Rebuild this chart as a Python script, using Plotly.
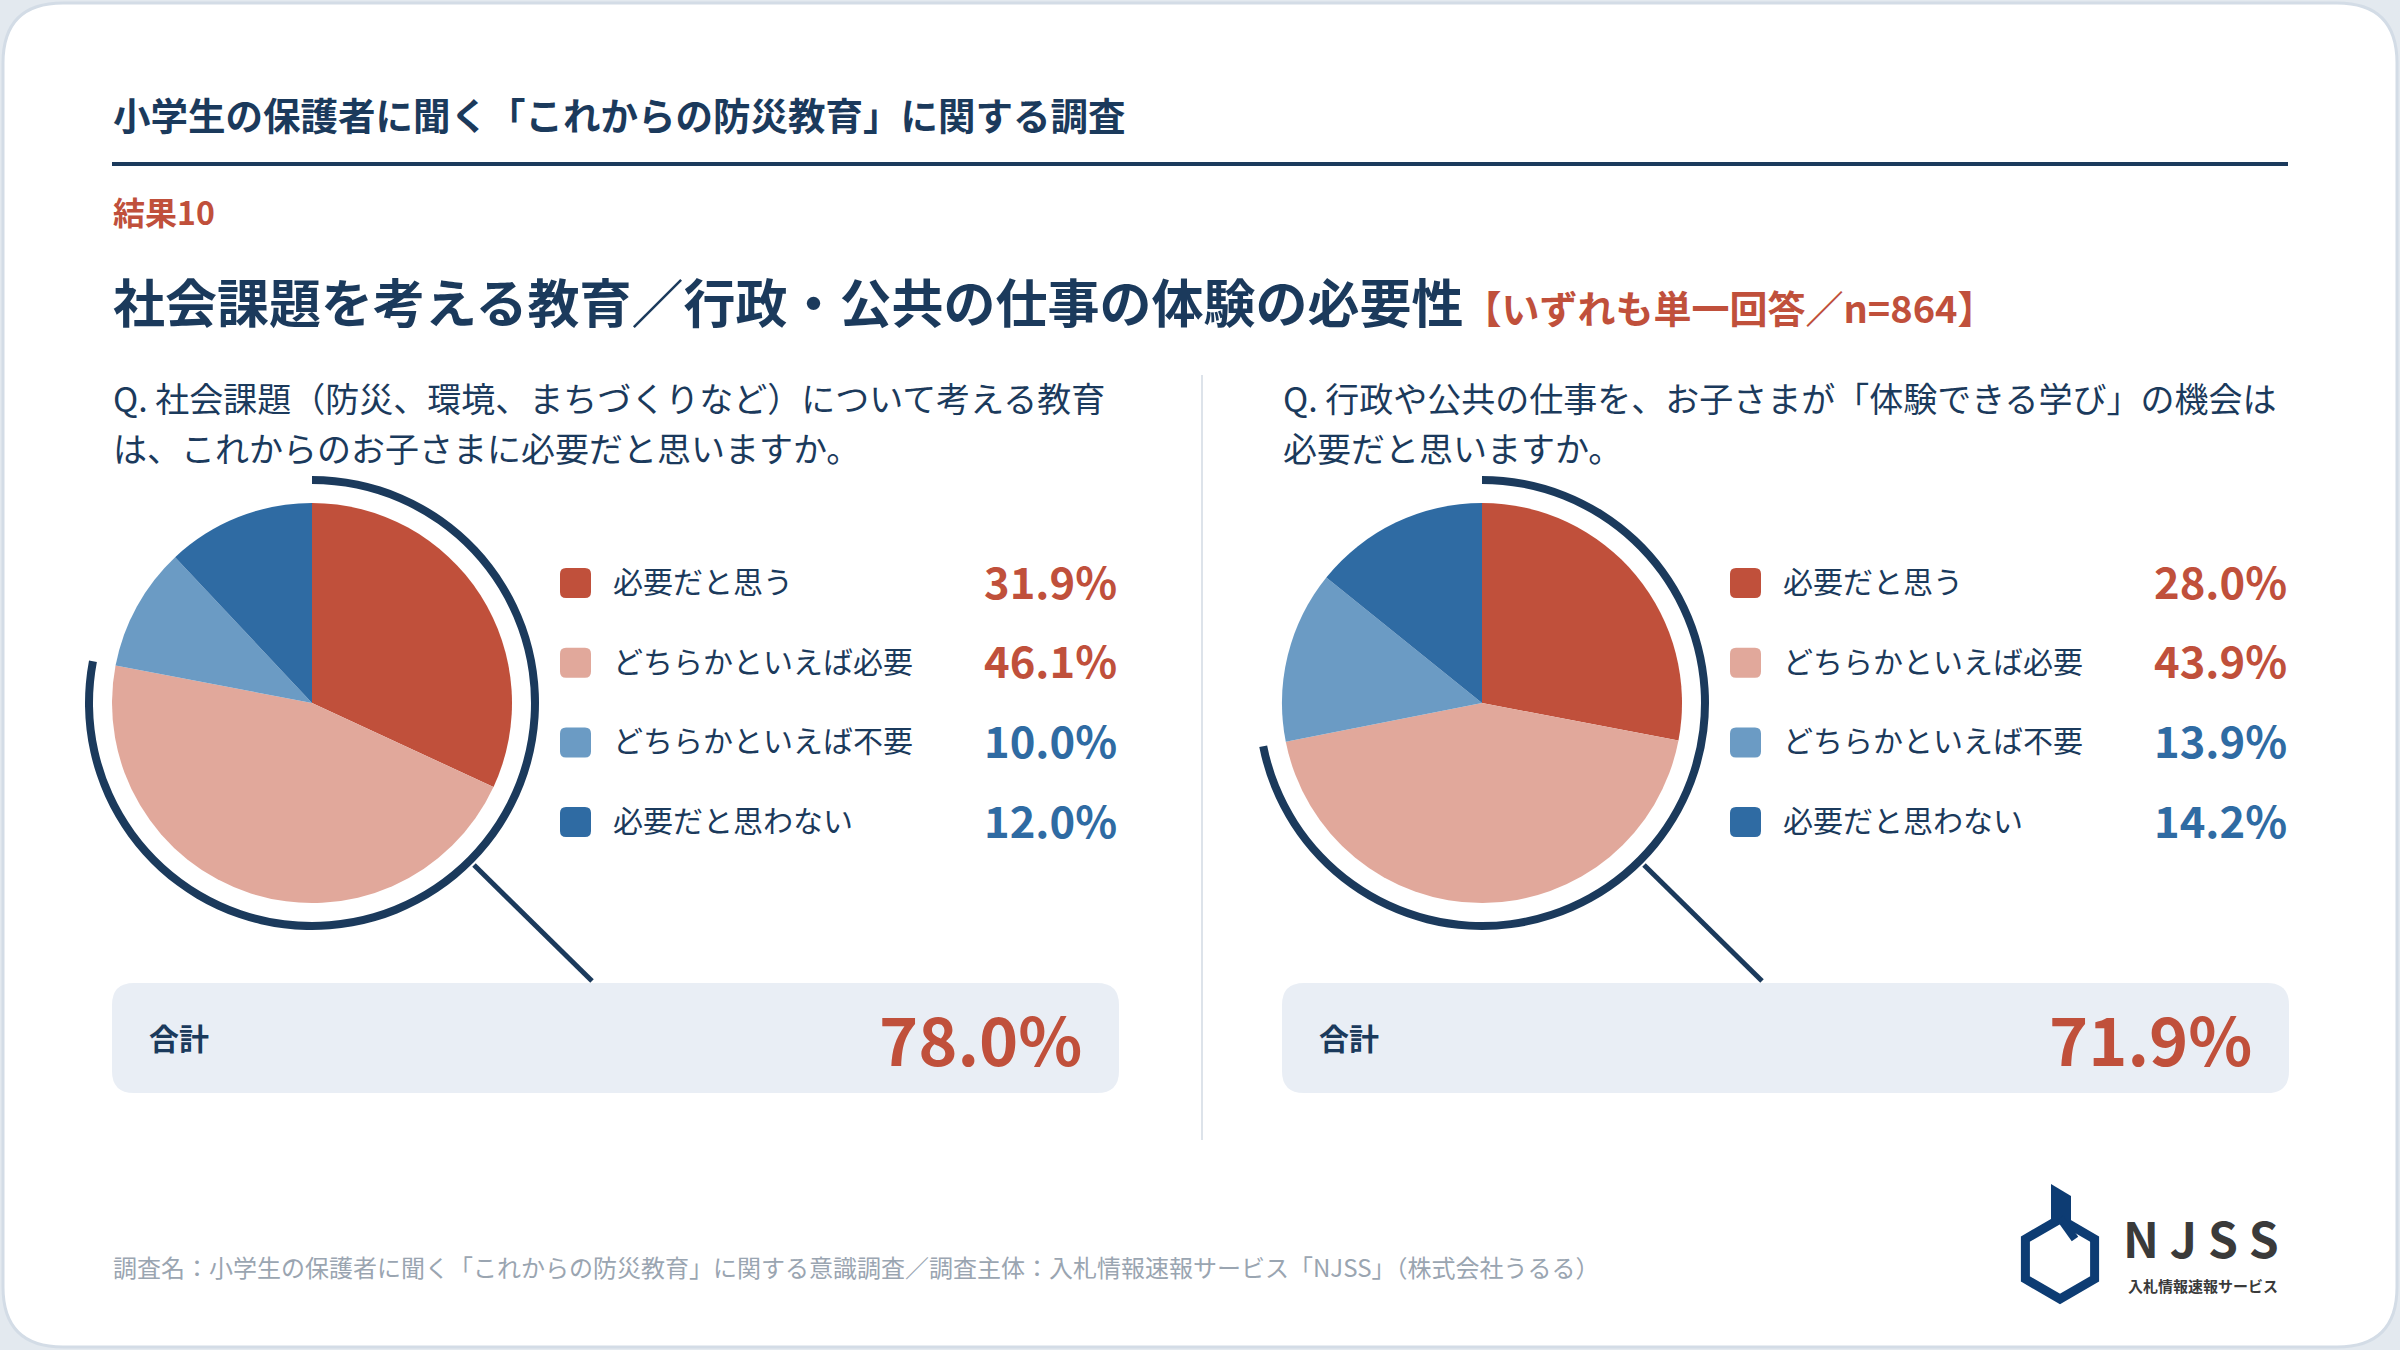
import math
import plotly.graph_objects as go

# data
categories = ["必要だと思う", "どちらかといえば必要", "どちらかといえば不要", "必要だと思わない"]
edu_values = [31.9, 46.1, 10.0, 12.0]
work_values = [28.0, 43.9, 13.9, 14.2]
edu_question = ["Q. 社会課題（防災、環境、まちづくりなど）について考える教育",
                "は、これからのお子さまに必要だと思いますか。"]
work_question = ["Q. 行政や公共の仕事を、お子さまが「体験できる学び」の機会は",
                 "必要だと思いますか。"]
header = "小学生の保護者に聞く「これからの防災教育」に関する調査"
result_no = "結果10"
title = "社会課題を考える教育／行政・公共の仕事の体験の必要性"
title_note = "【いずれも単一回答／n=864】"
total_label = "合計"
footer = "調査名：小学生の保護者に聞く「これからの防災教育」に関する意識調査／調査主体：入札情報速報サービス「NJSS」（株式会社うるる）"

W, H = 2400, 1350
NAVY = "#1b3a5c"
RED = "#c0503b"
colors = ["#c0503b", "#e1a89b", "#6b9bc4", "#2f6ba3"]
value_colors = [RED, RED, "#2f6ba3", "#2f6ba3"]
FONT = "Noto Sans CJK JP"


def rrect(x0, y0, x1, y1, r):
    return (f"M{x0+r},{y0} L{x1-r},{y0} Q{x1},{y0} {x1},{y0+r} L{x1},{y1-r} Q{x1},{y1} {x1-r},{y1} "
            f"L{x0+r},{y1} Q{x0},{y1} {x0},{y1-r} L{x0},{y0+r} Q{x0},{y0} {x0+r},{y0} Z")


def dom(cx, cy, r):
    return dict(x=[(cx - r) / W, (cx + r) / W], y=[1 - (cy + r) / H, 1 - (cy - r) / H])


fig = go.Figure()
shapes = []
ann = []


def text(x, y, s, size, color=NAVY, xanchor="left", bold=False):
    ann.append(dict(x=x, y=y - 3, xref="x", yref="y", text=f"<b>{s}</b>" if bold else s,
                    showarrow=False, xanchor=xanchor, yanchor="middle", borderpad=0,
                    font=dict(family=FONT, size=size, color=color)))


# card
shapes.append(dict(type="path", path=rrect(3, 3, W - 3, H - 3, 60), fillcolor="white",
                   line=dict(color="#d3dce6", width=3), layer="below"))

text(112, 116, header, 37.5, bold=True)
shapes.append(dict(type="line", x0=112, x1=2288, y0=164, y1=164, line=dict(color=NAVY, width=4)))
text(112, 214, result_no, 32, RED, bold=True)
text(112, 303, f"{title}<span style='font-size:38px;color:{RED}'>{title_note}</span>", 52, bold=True)
shapes.append(dict(type="line", x0=1202, x1=1202, y0=375, y1=1140, line=dict(color="#dde3ea", width=2)))

panels = [(0, edu_values, edu_question), (1170, work_values, work_question)]
for dx, vals, q in panels:
    cx, cy = 312 + dx, 703
    for i, line in enumerate(q):
        text(112 + dx, 400 + 50 * i, line, 34)
    fig.add_trace(go.Pie(values=vals, labels=categories, sort=False, direction="clockwise",
                         marker=dict(colors=colors, line=dict(width=0)), textinfo="none",
                         hoverinfo="skip", showlegend=False, domain=dom(cx, cy, 200)))
    total = round(vals[0] + vals[1], 1)
    fig.add_trace(go.Pie(values=[total, 100 - total], sort=False, direction="clockwise", hole=219 / 227,
                         marker=dict(colors=[NAVY, "rgba(0,0,0,0)"], line=dict(width=0)),
                         textinfo="none", hoverinfo="skip", showlegend=False, domain=dom(cx, cy, 227)))
    shapes.append(dict(type="line", x0=cx + 162, y0=cy + 162, x1=cx + 280, y1=981,
                       line=dict(color=NAVY, width=5)))
    for i, (c, v) in enumerate(zip(categories, vals)):
        y = 583 + 79.7 * i
        shapes.append(dict(type="path", path=rrect(560 + dx, y - 15, 591 + dx, y + 15, 6),
                           fillcolor=colors[i], line=dict(width=0)))
        text(612 + dx, y, c, 30)
        text(1118 + dx, y, f"{v:.1f}%", 43.5, value_colors[i], xanchor="right", bold=True)
    shapes.append(dict(type="path", path=rrect(112 + dx, 983, 1119 + dx, 1093, 22),
                       fillcolor="#e9eef5", line=dict(width=0), layer="below"))
    text(148 + dx, 1040, total_label, 30, bold=True)
    text(1083 + dx, 1040, f"{total:.1f}%", 66.5, RED, xanchor="right", bold=True)

text(112, 1269, footer, 24, "#9aa5b1")

# logo
LOGO = "#0d3c73"
hx, hy, hr = 2060, 1259, 40
pts = [(hx + hr * math.cos(math.radians(a)), hy + hr * math.sin(math.radians(a))) for a in range(-90, 270, 60)]
shapes.append(dict(type="path", path="M" + " L".join(f"{x:.1f},{y:.1f}" for x, y in pts) + " Z",
                   fillcolor="rgba(0,0,0,0)", line=dict(color=LOGO, width=9)))
shapes.append(dict(type="path", path="M2051,1184 L2071,1196 L2071,1220 L2051,1220 Z",
                   fillcolor=LOGO, line=dict(width=0)))
shapes.append(dict(type="line", x0=2060, y0=1218, x1=2075, y1=1239, line=dict(color=LOGO, width=8)))
text(2122, 1240, "N J S S", 48, "#3a3a3a", bold=True)
text(2127, 1288, "入札情報速報サービス", 15, "#3a3a3a", bold=True)

fig.update_layout(
    width=W, height=H, margin=dict(l=0, r=0, t=0, b=0),
    paper_bgcolor="#e3e9ef", plot_bgcolor="rgba(0,0,0,0)",
    xaxis=dict(range=[0, W], visible=False, fixedrange=True),
    yaxis=dict(range=[H, 0], visible=False, fixedrange=True),
    shapes=shapes, annotations=ann,
)
fig.write_html("out.html", config={"displayModeBar": False},
               post_script="document.body.style.margin='0';")
